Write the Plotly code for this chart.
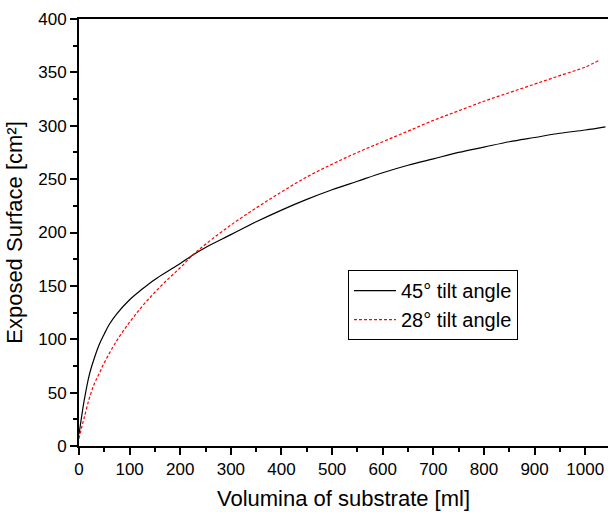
import plotly.graph_objects as go

x45 = [0, 5, 10, 20, 30, 40, 50, 60, 75, 100, 125, 150, 180, 200, 225, 250, 300, 350, 400, 450,
       500, 550, 600, 650, 700, 750, 800, 850, 900, 950, 1000, 1040]
y45 = [11, 27, 42, 66, 82, 95, 105, 114, 124, 137, 147, 156, 165, 171, 179, 186, 198, 210, 221, 231,
       240, 248, 256, 263, 269, 275, 280, 285, 289, 293, 296, 299]

x28 = [0, 5, 10, 20, 30, 40, 50, 75, 100, 125, 150, 175, 200, 225, 250, 300, 350, 400, 450, 500,
       550, 600, 650, 700, 750, 800, 850, 900, 950, 1000, 1026]
y28 = [7, 17, 26, 44, 58, 68, 78, 99, 116, 131, 144, 156, 167, 179, 189, 207, 223, 238, 252, 264,
       275, 285, 295, 305, 314, 323, 331, 339, 347, 355, 361]

names = ["45° tilt angle", "28° tilt angle"]

FONT = "Liberation Sans, Arial, sans-serif"

fig = go.Figure()
fig.add_trace(go.Scatter(x=x45, y=y45, mode="lines", name=names[0],
                         line=dict(color="black", width=1.2, shape="spline", smoothing=1)))
fig.add_trace(go.Scatter(x=x28, y=y28, mode="lines", name=names[1],
                         line=dict(color="red", width=1.2, dash="3px,2px", shape="spline", smoothing=1)))

fig.update_layout(
    width=608, height=512,
    margin=dict(l=79, r=0, t=19, b=66, autoexpand=False),
    paper_bgcolor="white", plot_bgcolor="white",
    font=dict(family=FONT, color="black", size=17),
    showlegend=True,
    legend=dict(x=0.5085, y=0.412, xanchor="left", yanchor="top",
                bordercolor="black", borderwidth=1, bgcolor="white",
                font=dict(size=20, family=FONT), tracegroupgap=0,
                itemwidth=42),
)
fig.update_xaxes(
    range=[0, 1045], showgrid=False, zeroline=False, automargin=False,
    showline=True, linecolor="black", linewidth=2, mirror=True,
    ticks="outside", tickwidth=1.5, ticklen=7, tickcolor="black",
    tick0=0, dtick=100,
    minor=dict(ticks="outside", ticklen=4, tickwidth=1.5, tickcolor="black", dtick=50),
    tickfont=dict(size=17, family=FONT),
    title=dict(text="Volumina of substrate [ml]", font=dict(size=22, family=FONT), standoff=12),
)
fig.update_yaxes(
    range=[0, 400], showgrid=False, zeroline=False, automargin=False,
    showline=True, linecolor="black", linewidth=2, mirror=False,
    ticks="outside", tickwidth=1.5, ticklen=7, tickcolor="black",
    tick0=0, dtick=50,
    minor=dict(ticks="outside", ticklen=4, tickwidth=1.5, tickcolor="black", dtick=25),
    tickfont=dict(size=17, family=FONT),
    title=dict(text="Exposed Surface [cm²]", font=dict(size=22, family=FONT), standoff=10),
)

fig.write_html("out.html", config={"displayModeBar": False},
               post_script="document.body.style.margin='0';document.body.style.overflow='hidden';")
